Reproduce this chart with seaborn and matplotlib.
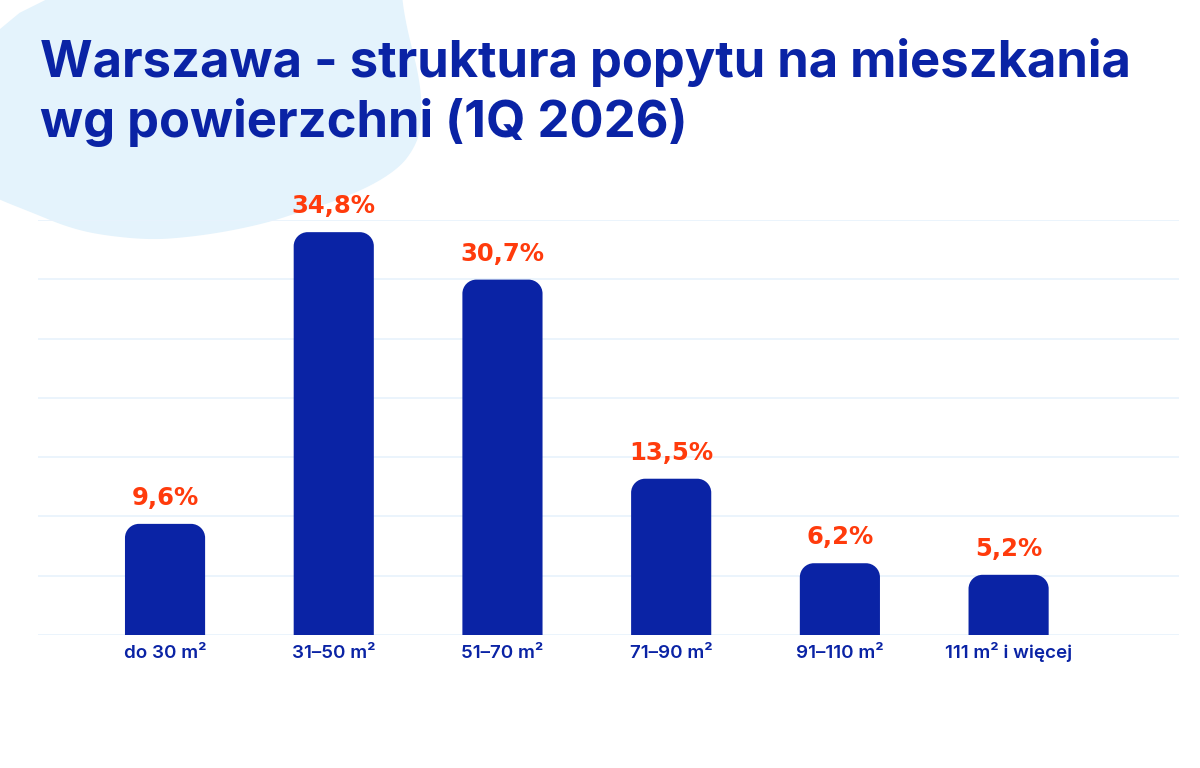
import numpy as np
import pandas as pd
import matplotlib
matplotlib.use("Agg")
import matplotlib.pyplot as plt
import seaborn as sns
from matplotlib.path import Path
from matplotlib.patches import PathPatch, Polygon

# data
categories = ["do 30 m²", "31–50 m²", "51–70 m²", "71–90 m²", "91–110 m²", "111 m² i więcej"]
shares = [9.6, 34.8, 30.7, 13.5, 6.2, 5.2]
value_labels = ["9,6%", "34,8%", "30,7%", "13,5%", "6,2%", "5,2%"]
title_lines = ["Warszawa - struktura popytu na mieszkania", "wg powierzchni (1Q 2026)"]

BLUE = "#0A23A5"
ORANGE = "#FF3B0C"
BLOB = "#E4F3FC"
GRID = "#E8F2FC"

df = pd.DataFrame({"category": categories, "share": shares})

sns.set_theme(style="white")
plt.rcParams["font.family"] = ["Inter", "DejaVu Sans"]

W, H = 1200, 768
fig = plt.figure(figsize=(W / 100, H / 100), dpi=100)
fig.patch.set_facecolor("white")

# light blue blob behind the title (pixel outline, smoothed with Chaikin)
blob_px = np.array([
    (-20, -20), (402, -20), (402, 0), (408, 33), (417, 67), (422, 100), (420, 133),
    (413, 150), (400, 167), (373, 185), (333, 202), (300, 212), (270, 222),
    (230, 231), (190, 237), (150, 240), (100, 235), (67, 227), (33, 213),
    (0, 200), (-20, 190),
], dtype=float)
pts = blob_px
for _ in range(3):
    nxt = np.roll(pts, -1, axis=0)
    q = 0.75 * pts + 0.25 * nxt
    r = 0.25 * pts + 0.75 * nxt
    pts = np.empty((2 * len(pts), 2))
    pts[0::2] = q
    pts[1::2] = r
fig_pts = np.column_stack([pts[:, 0] / W, 1 - pts[:, 1] / H])
fig.add_artist(Polygon(fig_pts, closed=True, transform=fig.transFigure,
                       facecolor=BLOB, edgecolor="none", zorder=0))

ax = fig.add_axes([38 / W, 133 / H, 1141 / W, 415 / H])
ax.set_facecolor("none")

sns.barplot(data=df, x="category", y="share", color=BLUE, width=0.475,
            saturation=1, ax=ax, zorder=3)

ax.set_xlim(-0.753, 6.01)
ax.set_ylim(0, 35.85)

# replace flat bars with bars rounded on top
radius_px = 14
px_per_x = ax.bbox.width / (ax.get_xlim()[1] - ax.get_xlim()[0])
px_per_y = ax.bbox.height / (ax.get_ylim()[1] - ax.get_ylim()[0])
rx, ry = radius_px / px_per_x, radius_px / px_per_y
k = 0.5523
for bar in list(ax.patches):
    x0, w, h = bar.get_x(), bar.get_width(), bar.get_height()
    x1 = x0 + w
    verts = [
        (x0, 0), (x0, h - ry),
        (x0, h - ry + k * ry), (x0 + rx - k * rx, h), (x0 + rx, h),
        (x1 - rx, h),
        (x1 - rx + k * rx, h), (x1, h - ry + k * ry), (x1, h - ry),
        (x1, 0), (x0, 0),
    ]
    codes = [Path.MOVETO, Path.LINETO,
             Path.CURVE4, Path.CURVE4, Path.CURVE4,
             Path.LINETO,
             Path.CURVE4, Path.CURVE4, Path.CURVE4,
             Path.LINETO, Path.CLOSEPOLY]
    ax.add_patch(PathPatch(Path(verts, codes), facecolor=BLUE, edgecolor="none", zorder=3))
    bar.remove()

# horizontal gridlines
for gy in np.linspace(0, 35.85, 8):
    ax.axhline(gy, color=GRID, linewidth=1.2, zorder=1)

for i, (v, lab) in enumerate(zip(shares, value_labels)):
    ax.annotate(lab, (i, v), xytext=(0, 10), textcoords="offset points",
                ha="center", va="bottom", color=ORANGE, fontsize=17.5,
                fontweight="bold", family=["DejaVu Sans"], zorder=4)

ax.set_xticks(range(len(categories)))
ax.set_xticklabels(categories, color=BLUE, fontsize=13.5, fontweight="semibold")
for t in ax.get_xticklabels():
    t.set_verticalalignment("baseline")
ax.tick_params(axis="x", length=0, pad=16.5)
ax.set_yticks([])
ax.set_xlabel("")
ax.set_ylabel("")
sns.despine(ax=ax, left=True, bottom=True)

fig.text(40 / W, 1 - 77 / H, title_lines[0], color=BLUE, fontsize=36.5,
         fontweight="bold", va="baseline", ha="left")
fig.text(40 / W, 1 - 137 / H, title_lines[1], color=BLUE, fontsize=36.5,
         fontweight="bold", va="baseline", ha="left")

fig.savefig("out.png", dpi=100, facecolor="white")
